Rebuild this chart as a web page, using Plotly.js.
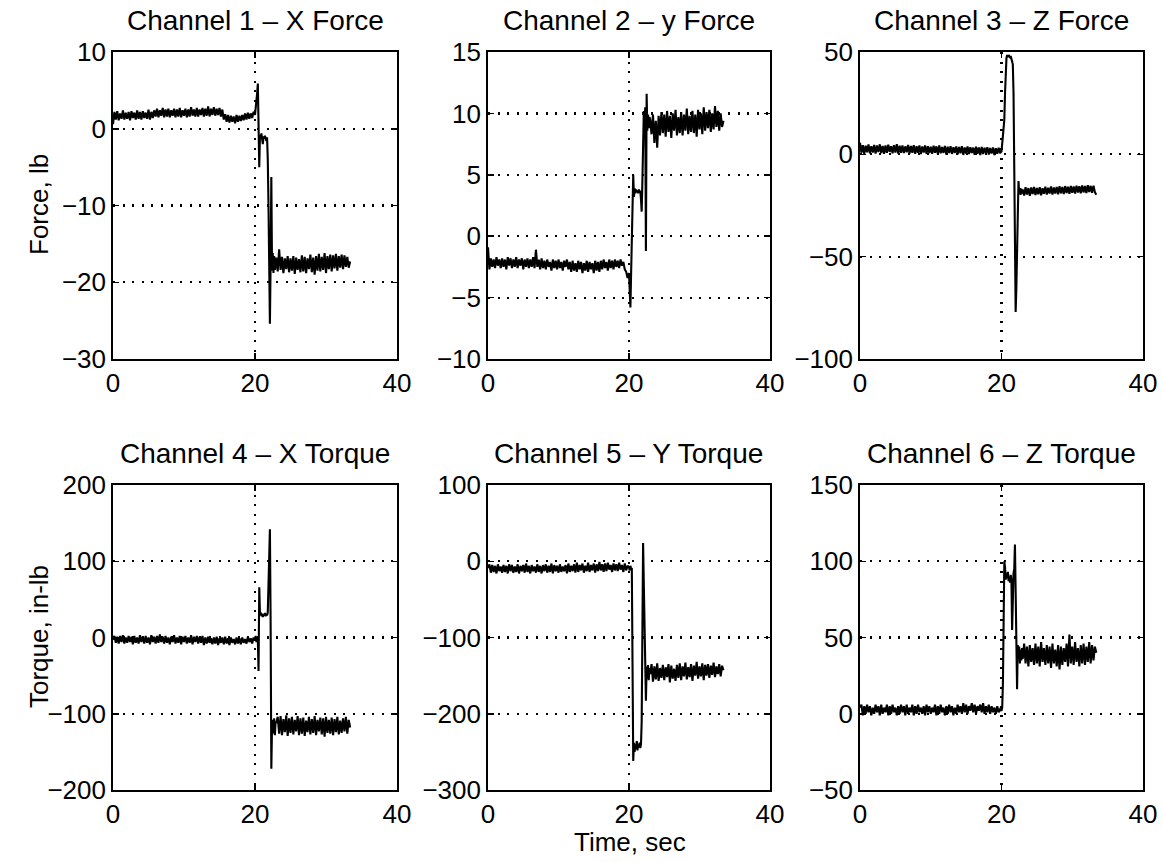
<!DOCTYPE html>
<html>
<head>
<meta charset="utf-8">
<script src="https://cdn.plot.ly/plotly-3.0.1.min.js"></script>
<style>
  html, body { margin: 0; padding: 0; background: #fff; }
  #chart { width: 1163px; height: 862px; }
</style>
</head>
<body>
<div id="chart"></div>
<script>
// ---- shared sample times (seconds) ----
const timePre = [
  0,0.2,0.4,0.6,0.8,1,1.2,1.4,1.6,1.8,
  2,2.2,2.4,2.6,2.8,3,3.2,3.4,3.6,3.8,
  4,4.2,4.4,4.6,4.8,5,5.2,5.4,5.6,5.8,
  6,6.2,6.4,6.6,6.8,7,7.2,7.4,7.6,7.8,
  8,8.2,8.4,8.6,8.8,9,9.2,9.4,9.6,9.8,
  10,10.2,10.4,10.6,10.8,11,11.2,11.4,11.6,11.8,
  12,12.2,12.4,12.6,12.8,13,13.2,13.4,13.6,13.8,
  14,14.2,14.4,14.6,14.8,15,15.2,15.4,15.6,15.8,
  16,16.2,16.4,16.6,16.8,17,17.2,17.4,17.6,17.8,
  18,18.2,18.4,18.6,18.8,19,19.2,19.4,19.6,19.8];
const timeTrans = [
  20,20.1,20.2,20.3,20.4,20.5,20.6,20.7,20.8,20.9,
  21,21.1,21.2,21.3,21.4,21.5,21.6,21.7,21.8,21.9,
  22,22.1,22.2,22.3,22.4,22.5,22.6,22.7,22.8,22.9];
const timePost = [
  23,23.2,23.4,23.6,23.8,24,24.2,24.4,24.6,24.8,
  25,25.2,25.4,25.6,25.8,26,26.2,26.4,26.6,26.8,
  27,27.2,27.4,27.6,27.8,28,28.2,28.4,28.6,28.8,
  29,29.2,29.4,29.6,29.8,30,30.2,30.4,30.6,30.8,
  31,31.2,31.4,31.6,31.8,32,32.2,32.4,32.6,32.8,
  33,33.2,33.4];

// ---- Channel 1 - X Force (lb) ----
const ch1Pre = [
  0.6,2.2,1.2,2.3,1.1,2.0,1.3,2.4,1.2,2.1,
  1.3,2.2,1.1,2.3,1.4,2.1,1.2,2.4,1.3,2.2,
  1.2,2.3,1.4,2.1,1.3,2.5,1.2,2.2,1.4,2.4,
  1.6,2.6,1.5,2.4,1.7,2.7,1.5,2.5,1.6,2.6,
  1.5,2.4,1.7,2.6,1.5,2.5,1.6,2.7,1.5,2.4,
  1.7,2.6,1.5,2.5,1.6,2.8,1.7,2.5,1.6,2.7,
  1.6,2.5,1.8,2.7,1.6,2.6,1.7,2.9,1.6,2.6,
  1.8,2.8,1.7,2.6,1.8,2.7,1.6,2.5,1.2,1.9,
  0.9,1.8,0.8,1.7,0.9,1.6,0.7,1.8,0.9,1.7,
  1.0,1.8,1.1,2.0,1.2,2.1,1.3,2.0,1.4,2.2];
const ch1Trans = [
  1.8,2.5,3.5,4.6,5.9,2.0,-5.0,-0.8,-1.2,-0.6,
  -1.5,-2.0,-1.0,-1.3,-0.9,-1.2,-1.6,-1.1,-4.0,-10.0,
  -17.0,-25.4,-17.5,-6.3,-18.5,-16.2,-18.8,-16.6,-18.4,-16.9];
const ch1Post = [
  -16.8,-18.6,-15.7,-18.4,-16.7,-18.8,-16.9,-18.3,-16.6,-18.7,
  -16.9,-18.5,-16.6,-18.9,-16.8,-18.4,-17.0,-18.7,-16.5,-18.6,
  -16.7,-18.8,-16.9,-18.3,-16.4,-18.7,-16.8,-19.0,-16.6,-18.5,
  -16.3,-18.6,-16.7,-18.4,-16.2,-18.8,-16.6,-18.3,-16.4,-18.6,
  -16.5,-18.2,-16.3,-18.5,-16.6,-18.1,-16.4,-18.3,-16.5,-18.0,
  -16.7,-18.1,-17.3];

// ---- Channel 2 - y Force (lb) ----
const ch2Pre = [
  -0.9,-2.7,-1.8,-2.5,-1.9,-2.6,-1.7,-2.4,-1.9,-2.6,
  -1.8,-2.5,-1.9,-2.7,-1.7,-2.4,-1.8,-2.6,-1.9,-2.5,
  -1.7,-2.6,-1.9,-2.4,-1.8,-2.7,-1.9,-2.5,-1.8,-2.6,
  -1.9,-2.5,-1.7,-2.6,-1.1,-2.5,-1.9,-2.7,-1.8,-2.6,
  -2.0,-2.7,-1.9,-2.5,-2.1,-2.8,-1.9,-2.6,-2.0,-2.7,
  -1.9,-2.6,-2.1,-2.8,-2.0,-2.5,-1.9,-2.7,-2.1,-2.9,
  -2.0,-2.8,-2.2,-2.9,-2.0,-2.7,-2.1,-3.0,-2.2,-2.8,
  -2.0,-2.9,-2.1,-2.7,-2.2,-3.0,-2.0,-2.8,-2.1,-2.9,
  -2.0,-2.7,-1.9,-2.6,-2.1,-2.8,-1.9,-2.6,-2.0,-2.7,
  -1.9,-2.5,-2.0,-2.6,-1.9,-2.4,-2.1,-2.7,-2.9,-3.4];
const ch2Trans = [
  -3.0,-4.5,-5.8,-3.0,0.5,3.0,5.0,3.2,3.9,3.5,
  3.8,3.6,3.7,3.5,3.8,3.6,3.7,3.0,2.0,4.5,
  8.0,10.2,9.0,10.5,-1.2,11.6,8.6,9.9,8.8,9.7];
const ch2Post = [
  9.5,8.3,9.9,7.6,9.4,7.2,9.8,8.2,10.1,8.4,
  9.9,8.1,10.2,8.5,9.8,8.0,10.0,8.6,10.3,8.2,
  9.7,8.4,10.1,8.2,9.9,8.6,10.4,8.3,9.8,8.5,
  10.2,8.4,9.9,8.1,10.3,8.7,10.0,8.3,10.5,8.6,
  10.1,8.8,10.3,8.5,10.0,8.7,10.6,8.9,10.2,8.6,
  10.0,8.9,9.4];

// ---- Channel 3 - Z Force (lb) ----
const ch3Pre = [
  5.7,0.8,4.5,0.3,4.2,1.0,4.8,0.5,4.0,0.9,
  4.6,0.4,4.3,1.1,4.9,0.6,4.1,0.2,4.4,0.8,
  4.7,1.2,4.0,0.5,4.5,0.9,5.0,0.3,4.2,0.7,
  4.4,0.6,3.9,1.0,4.6,0.4,4.1,0.8,4.5,0.2,
  4.0,0.7,4.3,0.1,3.8,0.9,4.4,0.3,4.0,0.6,
  3.7,0.2,4.2,0.8,3.9,0.1,4.3,0.5,3.6,0.7,
  4.1,-0.1,3.7,0.6,4.0,0.2,3.5,0.7,3.9,0.0,
  3.6,0.5,4.0,-0.3,3.4,0.4,3.8,0.1,3.5,0.6,
  3.3,-0.2,3.7,0.3,3.4,-0.4,3.6,0.2,3.2,0.5,
  3.5,-0.1,3.1,0.4,3.4,-0.3,3.0,0.3,3.2,0.6];
const ch3Trans = [
  1.5,4.0,9.0,13.0,17.0,30.0,42.0,47.0,48.5,47.5,
  48.5,48.0,47.5,48.0,47.0,46.0,44.0,30.0,-10.0,-50.0,
  -77.0,-65.0,-45.0,-28.0,-13.0,-19.0,-16.5,-19.8,-16.8,-19.2];
const ch3Post = [
  -17.2,-20.1,-16.0,-19.6,-16.5,-20.3,-16.2,-19.4,-15.9,-19.9,
  -16.4,-19.5,-16.1,-20.0,-16.6,-19.3,-15.8,-19.7,-16.3,-19.2,
  -15.7,-19.6,-16.2,-19.1,-15.9,-19.5,-15.6,-19.0,-16.0,-19.4,
  -15.5,-18.9,-15.8,-19.3,-15.4,-18.8,-15.7,-19.2,-15.3,-18.7,
  -15.6,-19.0,-15.2,-18.6,-15.5,-18.9,-15.1,-18.4,-15.4,-18.8,
  -15.3,-18.5,-19.8];

// ---- Channel 4 - X Torque (in-lb) ----
const ch4Pre = [
  -3,2,-7,1,-8,2,-6,3,-8,0,
  -7,2,-6,1,-9,2,-7,0,-8,3,
  -6,1,-8,2,-7,0,-9,3,-6,1,
  -8,2,-7,4,-6,1,-8,2,-7,0,
  -9,1,-6,3,-8,0,-7,2,-9,1,
  -6,2,-8,0,-7,3,-9,1,-6,2,
  -8,1,-7,2,-10,0,-8,1,-7,-1,
  -9,0,-8,1,-10,-1,-7,0,-9,1,
  -8,-1,-10,0,-7,-2,-9,0,-8,-1,
  -9,0,-7,-2,-8,1,-6,-1,-8,0];
const ch4Trans = [
  -3,2,-6,0,-4,-44,66,30,33,28,
  31,27,30,29,32,28,31,29,33,74,
  80,142,20,-172,-115,-108,-126,-106,-128,-110];
const ch4Post = [
  -112,-104,-126,-103,-128,-107,-124,-102,-129,-106,
  -125,-104,-127,-108,-123,-103,-128,-106,-126,-105,
  -129,-109,-124,-104,-127,-107,-125,-103,-128,-108,
  -123,-105,-127,-106,-130,-104,-125,-108,-126,-105,
  -128,-107,-124,-104,-127,-109,-125,-106,-123,-104,
  -126,-108,-118];

// ---- Channel 5 - Y Torque (in-lb) ----
const ch5Pre = [
  -9,-4,-15,-5,-14,-6,-16,-4,-13,-7,
  -15,-5,-14,-6,-16,-4,-13,-5,-15,-7,
  -14,-4,-16,-6,-13,-5,-15,-3,-14,-6,
  -16,-5,-13,-7,-15,-4,-14,-6,-16,-5,
  -13,-4,-15,-6,-14,-3,-16,-5,-13,-6,
  -15,-4,-14,-7,-13,-5,-16,-3,-14,-6,
  -13,-4,-15,-2,-14,-5,-12,-3,-15,-6,
  -13,-2,-14,-5,-12,-3,-15,-4,-13,-1,
  -12,-4,-14,-3,-13,-2,-11,-5,-14,-3,
  -12,-4,-13,-2,-11,-5,-14,-3,-12,-6];
const ch5Trans = [
  -8,-12,-6,-10,-9,-130,-262,-238,-250,-240,
  -246,-236,-248,-240,-244,-238,-245,-240,-210,-90,
  24,-30,-100,-160,-183,-138,-154,-136,-156,-140];
const ch5Post = [
  -148,-135,-158,-138,-155,-134,-157,-140,-153,-136,
  -156,-139,-152,-135,-159,-137,-154,-141,-157,-136,
  -153,-134,-156,-138,-151,-133,-155,-139,-152,-135,
  -157,-137,-150,-132,-154,-138,-151,-134,-156,-136,
  -150,-135,-153,-137,-149,-133,-152,-138,-148,-135,
  -151,-137,-143];

// ---- Channel 6 - Z Torque (in-lb) ----
const ch6Pre = [
  4,6,-1,5,0,6,1,5,-1,4,
  0,6,1,5,-1,6,0,4,1,6,
  -1,5,0,6,1,4,-1,5,0,6,
  1,5,-1,6,0,4,1,6,-1,5,
  0,6,1,4,0,5,-1,6,1,5,
  0,4,1,6,-1,5,0,6,1,4,
  -1,5,0,6,1,5,-1,4,0,6,
  1,5,0,7,1,6,0,5,2,7,
  1,6,0,5,2,6,1,7,0,5,
  1,6,0,5,1,4,0,5,1,3];
const ch6Trans = [
  2,4,20,70,100,96,88,92,89,93,
  87,90,86,91,88,55,89,92,95,111,
  80,40,16,45,36,44,33,42,35,43];
const ch6Post = [
  36,46,33,44,31,45,34,43,32,46,
  33,44,31,47,34,43,32,45,33,44,
  30,46,33,42,31,45,29,44,32,43,
  34,46,31,52,33,44,32,47,34,43,
  31,45,33,46,32,44,34,47,33,45,
  35,44,40];

// ---- titles, ranges, ticks ----
const panelTitles = ['Channel 1 \u2013 X Force','Channel 2 \u2013 y Force','Channel 3 \u2013 Z Force',
                     'Channel 4 \u2013 X Torque','Channel 5 \u2013 Y Torque','Channel 6 \u2013 Z Torque'];
const yRanges = [[-30,10],[-10,15],[-100,50],[-200,200],[-300,100],[-50,150]];
const yTicks  = [10,5,50,100,100,50];
const xRange = [0,40];
const xTick = 20;
const yLabelTop = 'Force, lb';
const yLabelBottom = 'Torque, in-lb';
const xLabel = 'Time, sec';

const time = timePre.concat(timeTrans, timePost);
const series = [
  ch1Pre.concat(ch1Trans, ch1Post),
  ch2Pre.concat(ch2Trans, ch2Post),
  ch3Pre.concat(ch3Trans, ch3Post),
  ch4Pre.concat(ch4Trans, ch4Post),
  ch5Pre.concat(ch5Trans, ch5Post),
  ch6Pre.concat(ch6Trans, ch6Post)
];

// ---- layout geometry (pixels in a 1163x862 page) ----
const W = 1163, H = 862;
const colPx = [[113,397],[488,770],[860,1143]];
const rowPx = [[52,359],[485,790]];
const FONT = 'Liberation Sans, Arial, Helvetica, sans-serif';

const traces = [];
const layout = {
  width: W, height: H,
  margin: {l:0, r:0, t:0, b:0},
  paper_bgcolor: '#fff', plot_bgcolor: '#fff',
  showlegend: false,
  font: {family: FONT, color: '#000', size: 25},
  annotations: []
};

const axisCommon = {
  ticks: 'inside', ticklen: 6, tickwidth: 1.5, tickcolor: '#000',
  showline: true, linewidth: 1.8, linecolor: '#000', mirror: 'ticks',
  showgrid: true, gridcolor: '#000', gridwidth: 2.2, griddash: '2px,7.6px',
  zeroline: false, fixedrange: true,
  tickfont: {family: FONT, size: 26, color: '#000'}
};

for (let i = 0; i < 6; i++) {
  const r = Math.floor(i / 3), c = i % 3;
  const n = i + 1;
  const xd = [colPx[c][0] / W, colPx[c][1] / W];
  const yd = [1 - rowPx[r][1] / H, 1 - rowPx[r][0] / H];
  const xName = 'xaxis' + (n === 1 ? '' : n);
  const yName = 'yaxis' + (n === 1 ? '' : n);
  layout[xName] = Object.assign({}, axisCommon, {
    domain: xd, range: xRange, dtick: xTick, tick0: 0,
    anchor: 'y' + (n === 1 ? '' : n)
  });
  layout[yName] = Object.assign({}, axisCommon, {
    domain: yd, range: yRanges[i], dtick: yTicks[i], tick0: 0,
    anchor: 'x' + (n === 1 ? '' : n)
  });
  traces.push({
    type: 'scatter', mode: 'lines',
    x: time, y: series[i],
    xaxis: 'x' + (n === 1 ? '' : n), yaxis: 'y' + (n === 1 ? '' : n),
    line: {color: '#000', width: 2.1},
    hoverinfo: 'skip'
  });
  layout.annotations.push({
    text: panelTitles[i], showarrow: false,
    xref: 'paper', yref: 'paper',
    x: (xd[0] + xd[1]) / 2,
    y: r === 0 ? 1 - 20 / H : 1 - 453 / H,
    xanchor: 'center', yanchor: 'middle',
    font: {family: FONT, size: 28, color: '#000'}
  });
}

layout.annotations.push({
  text: yLabelTop, showarrow: false, xref: 'paper', yref: 'paper',
  x: 39 / W, y: 1 - 205 / H, textangle: -90,
  xanchor: 'center', yanchor: 'middle',
  font: {family: FONT, size: 26, color: '#000'}
});
layout.annotations.push({
  text: yLabelBottom, showarrow: false, xref: 'paper', yref: 'paper',
  x: 39 / W, y: 1 - 637 / H, textangle: -90,
  xanchor: 'center', yanchor: 'middle',
  font: {family: FONT, size: 26, color: '#000'}
});
layout.annotations.push({
  text: xLabel, showarrow: false, xref: 'paper', yref: 'paper',
  x: 630 / W, y: 1 - 842 / H,
  xanchor: 'center', yanchor: 'middle',
  font: {family: FONT, size: 26, color: '#000'}
});

Plotly.newPlot('chart', traces, layout, {displayModeBar: false, staticPlot: true});
</script>
</body>
</html>
